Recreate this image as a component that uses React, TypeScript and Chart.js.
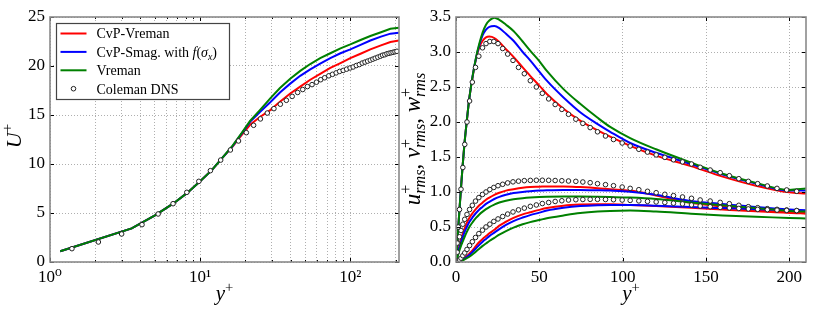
import React, { useEffect, useRef } from 'react';
import { Chart, registerables } from 'chart.js';
Chart.register(...registerables);

// ---------------- data ----------------
const DNS_YPLUS = [0, 0.7, 1.4, 2.1, 3.0, 4.1, 5.25, 6.6, 8.15, 9.8, 11.7, 13.7, 15.9, 18.0, 20.3, 22.7, 25.2, 28.0, 31.0, 34.2, 37.5, 41.0, 44.6, 48.2, 51.8, 55.6, 59.5, 63.5, 67.5, 71.9, 76.1, 80.5, 84.9, 89.7, 94.5, 99.7, 104.5, 109.7, 114.9, 120.1, 125.3, 130.5, 135.9, 141.3, 146.5, 152.5, 158.5, 164.0, 169.7, 175.4, 181.0, 186.8, 192.6, 198.4, 204.4];
const DNS_UMEAN = [0, 0.7, 1.36, 2.04, 2.86, 3.81, 4.90, 5.95, 7.11, 8.23, 9.32, 10.4, 11.43, 12.35, 13.2, 13.95, 14.6, 15.2, 15.65, 16.1, 16.5, 16.9, 17.3, 17.6, 17.9, 18.1, 18.35, 18.6, 18.8, 19.0, 19.15, 19.3, 19.45, 19.55, 19.68, 19.8, 19.9, 20.05, 20.15, 20.3, 20.4, 20.5, 20.6, 20.7, 20.8, 20.9, 21.0, 21.1, 21.15, 21.25, 21.3, 21.35, 21.4, 21.45, 21.5];
const DNS_URMS = [0, 0.27, 0.5, 0.75, 1.04, 1.35, 1.68, 2.0, 2.30, 2.57, 2.78, 2.94, 3.06, 3.12, 3.15, 3.15, 3.12, 3.05, 2.97, 2.88, 2.78, 2.69, 2.59, 2.50, 2.41, 2.33, 2.25, 2.18, 2.11, 2.04, 1.98, 1.92, 1.86, 1.80, 1.75, 1.70, 1.657, 1.61, 1.57, 1.53, 1.495, 1.46, 1.43, 1.40, 1.353, 1.314, 1.276, 1.233, 1.19, 1.152, 1.119, 1.086, 1.052, 1.029, 1.01];
const DNS_VRMS = [0, 0.005, 0.015, 0.03, 0.055, 0.09, 0.13, 0.18, 0.235, 0.29, 0.35, 0.405, 0.455, 0.5, 0.54, 0.58, 0.615, 0.65, 0.685, 0.715, 0.745, 0.77, 0.795, 0.815, 0.835, 0.85, 0.865, 0.875, 0.885, 0.89, 0.893, 0.895, 0.895, 0.893, 0.89, 0.885, 0.88, 0.873, 0.866, 0.858, 0.85, 0.84, 0.83, 0.815, 0.80, 0.79, 0.78, 0.772, 0.765, 0.758, 0.752, 0.747, 0.742, 0.738, 0.734];
const DNS_WRMS = [0, 0.14, 0.27, 0.36, 0.45, 0.54, 0.61, 0.68, 0.75, 0.81, 0.87, 0.92, 0.965, 1.0, 1.035, 1.065, 1.09, 1.11, 1.13, 1.145, 1.155, 1.162, 1.166, 1.168, 1.168, 1.167, 1.164, 1.161, 1.157, 1.152, 1.143, 1.133, 1.119, 1.105, 1.09, 1.071, 1.052, 1.033, 1.01, 0.99, 0.967, 0.948, 0.929, 0.91, 0.886, 0.871, 0.852, 0.833, 0.81, 0.79, 0.776, 0.762, 0.752, 0.743, 0.735];

const LES_YPLUS_MEAN = [1.17, 3.5, 5.0, 6.6, 8.2, 10, 12, 14, 16.5, 19, 21.5, 25, 29.3, 34, 39.8, 46.4, 54.1, 63, 73.6, 86, 100, 117, 136, 160, 185, 211];
const CVP_VREMAN_U = [1.1, 3.43, 4.75, 5.95, 7.05, 8.25, 9.4, 10.6, 11.8, 13.0, 14.0, 14.8, 15.5, 16.35, 17.2, 17.9, 18.6, 19.2, 19.8, 20.3, 20.8, 21.25, 21.7, 22.1, 22.45, 22.6];
const CVP_SMAG_U = [1.1, 3.43, 4.75, 5.95, 7.05, 8.25, 9.4, 10.6, 11.85, 13.15, 14.3, 15.3, 16.3, 17.3, 18.2, 19.0, 19.66, 20.25, 20.8, 21.3, 21.7, 22.15, 22.6, 23.0, 23.3, 23.4];
const VREMAN_U = [1.1, 3.43, 4.75, 5.95, 7.05, 8.25, 9.4, 10.6, 11.9, 13.2, 14.4, 15.5, 16.7, 17.75, 18.7, 19.5, 20.2, 20.8, 21.3, 21.8, 22.2, 22.65, 23.06, 23.45, 23.8, 23.9];

const LES_YPLUS_RMS = [0, 1, 2, 3, 4, 5, 6.5, 8, 10, 12, 14, 16, 18, 20, 23, 26, 30, 34.5, 40, 44.5, 50, 54.5, 64.5, 74.5, 85, 92.5, 104.5, 120, 141, 160, 180, 200, 210];
const CVP_VREMAN_URMS = [0, 0.36, 0.72, 1.06, 1.38, 1.67, 2.02, 2.34, 2.65, 2.9, 3.07, 3.16, 3.21, 3.22, 3.20, 3.14, 3.04, 2.93, 2.78, 2.66, 2.52, 2.40, 2.19, 2.02, 1.88, 1.79, 1.66, 1.52, 1.37, 1.22, 1.09, 0.995, 0.98];
const CVP_SMAG_URMS = [0, 0.36, 0.72, 1.06, 1.38, 1.67, 2.02, 2.34, 2.66, 2.91, 3.1, 3.24, 3.32, 3.36, 3.37, 3.34, 3.26, 3.16, 3.0, 2.88, 2.72, 2.59, 2.35, 2.14, 1.97, 1.86, 1.70, 1.56, 1.40, 1.25, 1.12, 1.02, 1.02];
const VREMAN_URMS = [0, 0.36, 0.72, 1.06, 1.38, 1.67, 2.02, 2.34, 2.66, 2.92, 3.12, 3.28, 3.39, 3.45, 3.49, 3.46, 3.39, 3.30, 3.15, 3.02, 2.87, 2.73, 2.47, 2.26, 2.06, 1.93, 1.77, 1.61, 1.42, 1.26, 1.13, 1.03, 1.05];
const CVP_VREMAN_WRMS = [0, 0.12, 0.23, 0.32, 0.4, 0.47, 0.56, 0.63, 0.7, 0.76, 0.81, 0.85, 0.89, 0.92, 0.96, 0.99, 1.02, 1.04, 1.06, 1.07, 1.075, 1.08, 1.08, 1.07, 1.055, 1.04, 1.02, 0.95, 0.845, 0.79, 0.745, 0.705, 0.69];
const CVP_SMAG_WRMS = [0, 0.1, 0.2, 0.28, 0.35, 0.42, 0.5, 0.57, 0.64, 0.7, 0.75, 0.79, 0.83, 0.86, 0.9, 0.93, 0.96, 0.985, 1.0, 1.01, 1.02, 1.025, 1.03, 1.03, 1.025, 1.02, 1.005, 0.96, 0.87, 0.83, 0.785, 0.75, 0.74];
const VREMAN_WRMS = [0, 0.08, 0.16, 0.23, 0.29, 0.35, 0.43, 0.5, 0.57, 0.63, 0.68, 0.72, 0.755, 0.785, 0.82, 0.85, 0.875, 0.895, 0.912, 0.922, 0.93, 0.933, 0.935, 0.935, 0.932, 0.928, 0.92, 0.9, 0.85, 0.81, 0.77, 0.73, 0.72];
const CVP_VREMAN_VRMS = [0, 0.004, 0.012, 0.025, 0.04, 0.055, 0.085, 0.12, 0.17, 0.23, 0.285, 0.33, 0.37, 0.41, 0.46, 0.52, 0.575, 0.63, 0.68, 0.71, 0.745, 0.77, 0.805, 0.82, 0.825, 0.825, 0.815, 0.8, 0.775, 0.75, 0.725, 0.705, 0.70];
const CVP_SMAG_VRMS = [0, 0.003, 0.01, 0.02, 0.033, 0.047, 0.072, 0.1, 0.145, 0.195, 0.245, 0.29, 0.33, 0.37, 0.42, 0.47, 0.53, 0.585, 0.635, 0.67, 0.705, 0.735, 0.775, 0.8, 0.812, 0.815, 0.815, 0.805, 0.785, 0.77, 0.755, 0.74, 0.73];
const VREMAN_VRMS = [0, 0.002, 0.007, 0.015, 0.025, 0.035, 0.055, 0.075, 0.11, 0.15, 0.19, 0.23, 0.265, 0.3, 0.345, 0.39, 0.44, 0.49, 0.54, 0.57, 0.6, 0.625, 0.665, 0.7, 0.722, 0.73, 0.735, 0.72, 0.69, 0.665, 0.645, 0.63, 0.62];

const LOG_TICKS = [1, 2, 3, 4, 5, 6, 7, 8, 9, 10, 20, 30, 40, 50, 60, 70, 80, 90, 100, 200];
const LOG_LABELS: Record<number, string> = { 1: '10\u2070', 10: '10\u00b9', 100: '10\u00b2' };
const RMS_X_TICKS = [0, 50, 100, 150, 200];

const SERIES_NAMES = ['CvP-Vreman', 'CvP-Smag. with f(\u03c3x)', 'Vreman', 'Coleman DNS'];

// ---------------- style ----------------
const FONT = '"Liberation Serif", "DejaVu Serif", serif';
const RED = '#ff0000';
const BLUE = '#0000ff';
const GREEN = '#008000';
const GRID = 'rgba(120,120,120,0.75)';

type Seg = { t?: string; it?: boolean; sup?: string; sub?: string };

const fontStr = (size: number, it?: boolean) => `${it ? 'italic ' : ''}${size}px ${FONT}`;

function measureRich(ctx: CanvasRenderingContext2D, segs: Seg[], base: number, ss = 0.7) {
  let w = 0;
  for (const s of segs) {
    if (s.t !== undefined) {
      ctx.font = fontStr(base, s.it);
      w += ctx.measureText(s.t).width;
    } else {
      let a = 0, b = 0;
      if (s.sup) { ctx.font = fontStr(base * ss, false); a = ctx.measureText(s.sup).width; }
      if (s.sub) { ctx.font = fontStr(base * ss, true); b = ctx.measureText(s.sub).width; }
      w += Math.max(a, b);
    }
  }
  return w;
}

function drawRich(ctx: CanvasRenderingContext2D, segs: Seg[], x: number, y: number, base: number, ss = 0.7) {
  let cx = x;
  ctx.textBaseline = 'alphabetic';
  ctx.textAlign = 'left';
  for (const s of segs) {
    if (s.t !== undefined) {
      ctx.font = fontStr(base, s.it);
      ctx.fillText(s.t, cx, y);
      cx += ctx.measureText(s.t).width;
    } else {
      let a = 0, b = 0;
      if (s.sup) {
        ctx.font = fontStr(base * ss, false);
        ctx.fillText(s.sup, cx, y - base * 0.4);
        a = ctx.measureText(s.sup).width;
      }
      if (s.sub) {
        ctx.font = fontStr(base * ss, true);
        ctx.fillText(s.sub, cx, y + base * 0.22);
        b = ctx.measureText(s.sub).width;
      }
      cx += Math.max(a, b);
    }
  }
}

function drawRotated(ctx: CanvasRenderingContext2D, segs: Seg[], bx: number, cy: number, base: number, ss = 0.7) {
  ctx.save();
  ctx.translate(bx, cy);
  ctx.rotate(-Math.PI / 2);
  const w = measureRich(ctx, segs, base, ss);
  drawRich(ctx, segs, -w / 2, 0, base, ss);
  ctx.restore();
}

function drawFrameAndTicks(chart: any, xMajor: (v: number) => boolean) {
  const { ctx, chartArea: ca, scales } = chart;
  ctx.save();
  ctx.strokeStyle = '#000';
  ctx.lineWidth = 1;
  ctx.beginPath();
  for (const t of scales.x.ticks) {
    const px = Math.round(scales.x.getPixelForValue(t.value)) + 0.5;
    const L = xMajor(t.value) ? 4 : 2;
    ctx.moveTo(px, ca.bottom); ctx.lineTo(px, ca.bottom - L);
    ctx.moveTo(px, ca.top); ctx.lineTo(px, ca.top + L);
  }
  for (const t of scales.y.ticks) {
    const py = Math.round(scales.y.getPixelForValue(t.value)) + 0.5;
    ctx.moveTo(ca.left, py); ctx.lineTo(ca.left + 4, py);
    ctx.moveTo(ca.right, py); ctx.lineTo(ca.right - 4, py);
  }
  ctx.stroke();
  ctx.strokeStyle = '#8a8a8a';
  ctx.lineWidth = 1.6;
  ctx.strokeRect(ca.left, ca.top, ca.right - ca.left, ca.bottom - ca.top);
  ctx.restore();
}

const mk = (xs: number[], ys: number[]) => xs.map((x, i) => ({ x, y: ys[i] }));

const lineDs = (label: string, xs: number[], ys: number[], color: string, order: number, smooth: boolean) => ({
  label,
  data: mk(xs, ys),
  borderColor: color,
  backgroundColor: color,
  borderWidth: 2,
  pointRadius: 0,
  fill: false,
  order,
  tension: 0,
  cubicInterpolationMode: smooth ? 'monotone' : 'default',
});

const dnsDs = (label: string, pts: { x: number; y: number }[]) => ({
  label,
  data: pts,
  showLine: false,
  pointRadius: 2.3,
  pointBorderWidth: 1,
  pointBorderColor: '#222',
  pointBackgroundColor: '#fff',
  order: 0,
});

const tickFont = { family: FONT, size: 17 };

function baseOptions(xScale: any, yScale: any) {
  return {
    responsive: false,
    animation: false,
    layout: { padding: { top: 17, right: 8, left: 0, bottom: 0 } },
    plugins: { legend: { display: false }, tooltip: { enabled: false } },
    scales: { x: xScale, y: yScale },
  };
}

const LEFT_W = 407;
const RIGHT_X = 396;
const RIGHT_W = 814 - RIGHT_X;

export default function App() {
  const leftRef = useRef<HTMLCanvasElement>(null);
  const rightRef = useRef<HTMLCanvasElement>(null);

  useEffect(() => {
    // ---------- left chart ----------
    const legendRows: { segs: Seg[]; color?: string; marker?: boolean }[] = [
      { segs: [{ t: SERIES_NAMES[0] }], color: RED },
      { segs: [{ t: 'CvP-Smag. with ' }, { t: 'f', it: true }, { t: '(' }, { t: '\u03c3', it: true }, { sub: 'x' }, { t: ')' }], color: BLUE },
      { segs: [{ t: SERIES_NAMES[2] }], color: GREEN },
      { segs: [{ t: SERIES_NAMES[3] }], marker: true },
    ];

    const leftPlugin = {
      id: 'leftDeco',
      afterDraw(chart: any) {
        const { ctx, chartArea: ca } = chart;
        drawFrameAndTicks(chart, (v) => v in LOG_LABELS);
        ctx.save();
        ctx.fillStyle = '#000';
        drawRotated(ctx, [{ t: 'U', it: true }, { sup: '+' }], 20.5, 136, 22);
        const xs: Seg[] = [{ t: 'y', it: true }, { sup: '+' }];
        const w = measureRich(ctx, xs, 21);
        drawRich(ctx, xs, (ca.left + ca.right) / 2 - w / 2, 300, 21);
        // legend
        const bx = ca.left + 6, by = ca.top + 6, bw = 173, bh = 76;
        ctx.fillStyle = '#fff';
        ctx.fillRect(bx, by, bw, bh);
        ctx.strokeStyle = '#444';
        ctx.lineWidth = 1.2;
        ctx.strokeRect(bx + 0.5, by + 0.5, bw, bh);
        legendRows.forEach((r, i) => {
          const cy = by + 10.5 + i * 18.4;
          if (r.marker) {
            ctx.beginPath();
            ctx.arc(bx + 17.5, cy, 2.3, 0, Math.PI * 2);
            ctx.fillStyle = '#fff';
            ctx.fill();
            ctx.strokeStyle = '#222';
            ctx.lineWidth = 1;
            ctx.stroke();
          } else {
            ctx.strokeStyle = r.color!;
            ctx.lineWidth = 2;
            ctx.beginPath();
            ctx.moveTo(bx + 4.5, cy);
            ctx.lineTo(bx + 30.5, cy);
            ctx.stroke();
          }
          ctx.fillStyle = '#000';
          drawRich(ctx, r.segs, bx + 40.5, cy + 4.8, 14);
        });
        ctx.restore();
      },
    };

    const dnsLeft = mk(DNS_YPLUS, DNS_UMEAN).filter((p) => p.x >= 1);
    const left = new Chart(leftRef.current!, {
      type: 'line',
      data: {
        datasets: [
          dnsDs(SERIES_NAMES[3], dnsLeft),
          lineDs(SERIES_NAMES[2], LES_YPLUS_MEAN, VREMAN_U, GREEN, 1, false),
          lineDs(SERIES_NAMES[1], LES_YPLUS_MEAN, CVP_SMAG_U, BLUE, 2, false),
          lineDs(SERIES_NAMES[0], LES_YPLUS_MEAN, CVP_VREMAN_U, RED, 3, false),
        ] as any,
      },
      options: baseOptions(
        {
          type: 'logarithmic',
          min: 1,
          max: 211,
          afterBuildTicks: (s: any) => {
            s.ticks = LOG_TICKS.map((v) => ({ value: v, major: v in LOG_LABELS }));
          },
          afterFit: (s: any) => { s.height = 55; },
          ticks: {
            callback: (v: any) => LOG_LABELS[v as number] ?? '',
            autoSkip: false,
            maxRotation: 0,
            padding: 5,
            color: '#000',
            font: tickFont,
          },
          grid: { color: GRID, lineWidth: 0.8, drawTicks: false },
          border: { display: false, dash: [1, 2] },
        },
        {
          type: 'linear',
          min: 0,
          max: 25,
          ticks: { stepSize: 5, padding: 5, color: '#000', font: tickFont },
          afterFit: (s: any) => { s.width = 50; },
          grid: { color: GRID, lineWidth: 0.8, drawTicks: false },
          border: { display: false, dash: [1, 2] },
        },
      ) as any,
      plugins: [leftPlugin],
    });

    // ---------- right chart ----------
    const rightPlugin = {
      id: 'rightDeco',
      afterDraw(chart: any) {
        const { ctx, chartArea: ca } = chart;
        drawFrameAndTicks(chart, () => true);
        ctx.save();
        ctx.fillStyle = '#000';
        const lab: Seg[] = [
          { t: 'u', it: true }, { sup: '+', sub: 'rms' }, { t: ', ' },
          { t: 'v', it: true }, { sup: '+', sub: 'rms' }, { t: ', ' },
          { t: 'w', it: true }, { sup: '+', sub: 'rms' },
        ];
        drawRotated(ctx, lab, 420 - RIGHT_X, 139, 23, 0.7);
        const xs: Seg[] = [{ t: 'y', it: true }, { sup: '+' }];
        const w = measureRich(ctx, xs, 21);
        drawRich(ctx, xs, (ca.left + ca.right) / 2 - w / 2, 300, 21);
        ctx.restore();
      },
    };

    const right = new Chart(rightRef.current!, {
      type: 'line',
      data: {
        datasets: [
          dnsDs(SERIES_NAMES[3], mk(DNS_YPLUS, DNS_URMS)),
          dnsDs(SERIES_NAMES[3], mk(DNS_YPLUS, DNS_VRMS)),
          dnsDs(SERIES_NAMES[3], mk(DNS_YPLUS, DNS_WRMS)),
          lineDs(SERIES_NAMES[2], LES_YPLUS_RMS, VREMAN_URMS, GREEN, 1, true),
          lineDs(SERIES_NAMES[2], LES_YPLUS_RMS, VREMAN_VRMS, GREEN, 1, true),
          lineDs(SERIES_NAMES[2], LES_YPLUS_RMS, VREMAN_WRMS, GREEN, 1, true),
          lineDs(SERIES_NAMES[1], LES_YPLUS_RMS, CVP_SMAG_URMS, BLUE, 2, true),
          lineDs(SERIES_NAMES[1], LES_YPLUS_RMS, CVP_SMAG_VRMS, BLUE, 2, true),
          lineDs(SERIES_NAMES[1], LES_YPLUS_RMS, CVP_SMAG_WRMS, BLUE, 2, true),
          lineDs(SERIES_NAMES[0], LES_YPLUS_RMS, CVP_VREMAN_URMS, RED, 3, true),
          lineDs(SERIES_NAMES[0], LES_YPLUS_RMS, CVP_VREMAN_VRMS, RED, 3, true),
          lineDs(SERIES_NAMES[0], LES_YPLUS_RMS, CVP_VREMAN_WRMS, RED, 3, true),
        ] as any,
      },
      options: baseOptions(
        {
          type: 'linear',
          min: 0,
          max: 210,
          afterBuildTicks: (s: any) => {
            s.ticks = RMS_X_TICKS.map((v) => ({ value: v }));
          },
          afterFit: (s: any) => { s.height = 55; },
          ticks: { autoSkip: false, maxRotation: 0, padding: 5, color: '#000', font: tickFont, callback: (v: any) => String(v) },
          grid: { color: GRID, lineWidth: 0.8, drawTicks: false },
          border: { display: false, dash: [1, 2] },
        },
        {
          type: 'linear',
          min: 0,
          max: 3.5,
          ticks: { stepSize: 0.5, padding: 5, color: '#000', font: tickFont, callback: (v: any) => Number(v).toFixed(1) },
          afterFit: (s: any) => { s.width = 456 - RIGHT_X; },
          grid: { color: GRID, lineWidth: 0.8, drawTicks: false },
          border: { display: false, dash: [1, 2] },
        },
      ) as any,
      plugins: [rightPlugin],
    });

    return () => {
      left.destroy();
      right.destroy();
    };
  }, []);

  return (
    <div style={{ position: 'absolute', left: 0, top: 0, width: 814, height: 317, background: '#fff' }}>
      <canvas ref={leftRef} width={LEFT_W} height={317} style={{ position: 'absolute', left: 0, top: 0, width: LEFT_W, height: 317 }} />
      <canvas ref={rightRef} width={RIGHT_W} height={317} style={{ position: 'absolute', left: RIGHT_X, top: 0, width: RIGHT_W, height: 317 }} />
    </div>
  );
}
